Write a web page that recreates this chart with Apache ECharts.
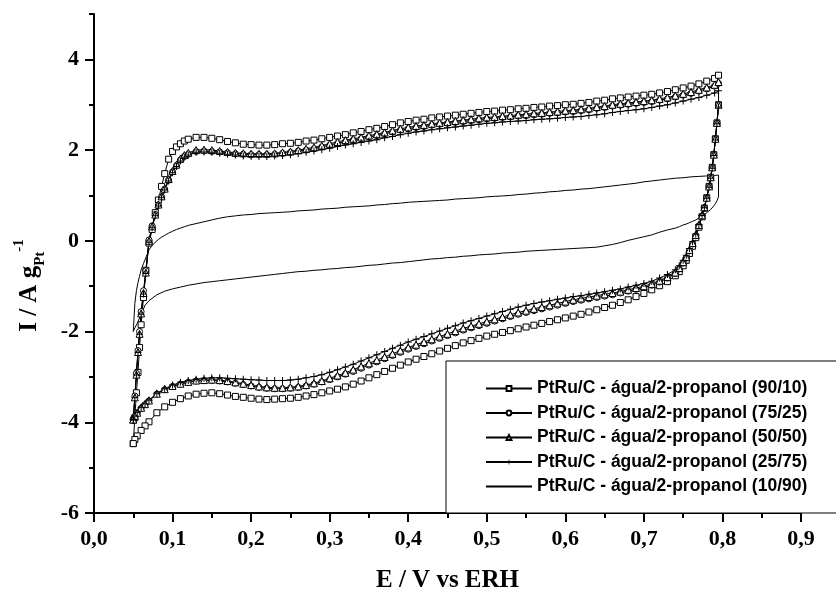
<!DOCTYPE html>
<html>
<head>
<meta charset="utf-8">
<script src="https://cdn.jsdelivr.net/npm/echarts@6/dist/echarts.min.js"></script>
<style>
  html, body { margin: 0; padding: 0; background: #fff; }
  #chart { width: 836px; height: 598px; }
</style>
</head>
<body>
<div id="chart"></div>
<script>
// potencial (V vs ERH) - varredura anodica e catodica
const E_up = [
  0.050, 0.052, 0.054, 0.056, 0.058, 0.060, 0.063, 0.066, 0.070, 0.074,
  0.078, 0.082, 0.086, 0.090, 0.095, 0.100, 0.105, 0.110, 0.115, 0.120,
  0.13, 0.14, 0.15, 0.16, 0.17, 0.18, 0.19, 0.20, 0.21, 0.22,
  0.23, 0.24, 0.25, 0.26, 0.27, 0.28, 0.29, 0.30, 0.31, 0.32,
  0.33, 0.34, 0.35, 0.36, 0.37, 0.38, 0.39, 0.40, 0.41, 0.42,
  0.43, 0.44, 0.45, 0.46, 0.47, 0.48, 0.49, 0.50, 0.51, 0.52,
  0.53, 0.54, 0.55, 0.56, 0.57, 0.58, 0.59, 0.60, 0.61, 0.62,
  0.63, 0.64, 0.65, 0.66, 0.67, 0.68, 0.69, 0.70, 0.71, 0.72,
  0.73, 0.74, 0.75, 0.76, 0.77, 0.78, 0.79, 0.795
]
const E_down = [
  0.795, 0.793, 0.791, 0.789, 0.787, 0.785, 0.783, 0.780, 0.777, 0.774,
  0.770, 0.766, 0.762, 0.758, 0.754, 0.750, 0.745, 0.74, 0.73, 0.72,
  0.71, 0.70, 0.69, 0.68, 0.67, 0.66, 0.65, 0.64, 0.63, 0.62,
  0.61, 0.60, 0.59, 0.58, 0.57, 0.56, 0.55, 0.54, 0.53, 0.52,
  0.51, 0.50, 0.49, 0.48, 0.47, 0.46, 0.45, 0.44, 0.43, 0.42,
  0.41, 0.40, 0.39, 0.38, 0.37, 0.36, 0.35, 0.34, 0.33, 0.32,
  0.31, 0.30, 0.29, 0.28, 0.27, 0.26, 0.25, 0.24, 0.23, 0.22,
  0.21, 0.20, 0.19, 0.18, 0.17, 0.16, 0.15, 0.14, 0.13, 0.12,
  0.11, 0.10, 0.09, 0.08, 0.07, 0.065, 0.060, 0.055, 0.052, 0.050
]

const names = [
  'PtRu/C - água/2-propanol (90/10)',
  'PtRu/C - água/2-propanol (75/25)',
  'PtRu/C - água/2-propanol (50/50)',
  'PtRu/C - água/2-propanol (25/75)',
  'PtRu/C - água/2-propanol (10/90)'
]

// I / A g-1 (90/10)
const I_9010_up = [
  -4.47, -3.90, -3.35, -2.90, -2.35, -1.85, -1.25, -0.65, -0.05, 0.25,
  0.62, 0.90, 1.20, 1.48, 1.80, 1.97, 2.07, 2.14, 2.20, 2.24,
  2.28, 2.28, 2.26, 2.23, 2.19, 2.16, 2.13, 2.12, 2.11, 2.11,
  2.12, 2.14, 2.15, 2.17, 2.20, 2.22, 2.25, 2.28, 2.31, 2.34,
  2.38, 2.41, 2.45, 2.48, 2.52, 2.56, 2.60, 2.63, 2.66, 2.68,
  2.71, 2.73, 2.75, 2.77, 2.79, 2.81, 2.83, 2.85, 2.86, 2.88,
  2.89, 2.91, 2.92, 2.94, 2.95, 2.97, 2.98, 3.00, 3.01, 3.03,
  3.05, 3.08, 3.10, 3.13, 3.15, 3.17, 3.19, 3.21, 3.23, 3.26,
  3.29, 3.33, 3.37, 3.41, 3.46, 3.52, 3.58, 3.65
]
const I_9010_down = [
  3.00, 2.60, 2.25, 1.90, 1.62, 1.40, 1.20, 0.95, 0.72, 0.53,
  0.30, 0.07, -0.12, -0.28, -0.43, -0.55, -0.68, -0.77, -0.90, -0.99,
  -1.08, -1.16, -1.23, -1.30, -1.36, -1.42, -1.47, -1.52, -1.57, -1.62,
  -1.66, -1.70, -1.74, -1.78, -1.82, -1.86, -1.90, -1.94, -1.98, -2.02,
  -2.06, -2.10, -2.15, -2.20, -2.25, -2.31, -2.37, -2.43, -2.49, -2.55,
  -2.61, -2.67, -2.74, -2.81, -2.88, -2.95, -3.02, -3.09, -3.16, -3.22,
  -3.27, -3.31, -3.35, -3.39, -3.42, -3.45, -3.47, -3.48, -3.49, -3.50,
  -3.49, -3.47, -3.45, -3.43, -3.40, -3.37, -3.35, -3.36, -3.38, -3.42,
  -3.48, -3.56, -3.66, -3.79, -3.99, -4.08, -4.18, -4.30, -4.38, -4.47
]

// (75/25)
const I_7525_up = [
  -3.92, -3.42, -2.92, -2.42, -2.00, -1.56, -1.10, -0.66, 0.02, 0.33,
  0.58, 0.79, 0.97, 1.14, 1.34, 1.52, 1.66, 1.78, 1.86, 1.91,
  1.97, 1.98, 1.97, 1.96, 1.94, 1.92, 1.91, 1.90, 1.90, 1.90,
  1.91, 1.93, 1.95, 1.98, 2.00, 2.03, 2.07, 2.11, 2.15, 2.19,
  2.22, 2.25, 2.29, 2.32, 2.36, 2.40, 2.44, 2.47, 2.50, 2.52,
  2.55, 2.57, 2.59, 2.61, 2.63, 2.65, 2.67, 2.69, 2.70, 2.72,
  2.73, 2.75, 2.76, 2.78, 2.79, 2.81, 2.82, 2.84, 2.85, 2.87,
  2.89, 2.92, 2.94, 2.97, 2.99, 3.01, 3.03, 3.05, 3.07, 3.10,
  3.13, 3.17, 3.21, 3.25, 3.30, 3.35, 3.41, 3.47
]
const I_7525_down = [
  3.00, 2.60, 2.25, 1.90, 1.62, 1.40, 1.20, 0.95, 0.73, 0.55,
  0.33, 0.11, -0.07, -0.22, -0.38, -0.49, -0.62, -0.72, -0.82, -0.91,
  -0.98, -1.03, -1.07, -1.11, -1.15, -1.19, -1.22, -1.25, -1.28, -1.31,
  -1.34, -1.38, -1.42, -1.46, -1.50, -1.54, -1.58, -1.62, -1.67, -1.72,
  -1.77, -1.82, -1.87, -1.92, -1.97, -2.03, -2.09, -2.15, -2.21, -2.27,
  -2.33, -2.39, -2.46, -2.53, -2.60, -2.67, -2.74, -2.81, -2.88, -2.94,
  -3.00, -3.06, -3.11, -3.16, -3.20, -3.23, -3.25, -3.26, -3.26, -3.25,
  -3.23, -3.20, -3.17, -3.14, -3.11, -3.09, -3.08, -3.08, -3.09, -3.12,
  -3.16, -3.21, -3.28, -3.38, -3.53, -3.61, -3.69, -3.80, -3.87, -3.95
]

// (50/50)
const I_5050_up = [
  -3.94, -3.45, -2.95, -2.45, -2.05, -1.60, -1.15, -0.70, 0.00, 0.32,
  0.58, 0.80, 0.98, 1.15, 1.36, 1.54, 1.68, 1.81, 1.89, 1.94,
  2.00, 2.01, 2.00, 1.98, 1.96, 1.94, 1.93, 1.92, 1.92, 1.92,
  1.93, 1.95, 1.97, 2.00, 2.03, 2.06, 2.10, 2.14, 2.18, 2.22,
  2.25, 2.28, 2.32, 2.35, 2.39, 2.43, 2.47, 2.50, 2.53, 2.55,
  2.58, 2.60, 2.62, 2.64, 2.66, 2.68, 2.70, 2.72, 2.73, 2.75,
  2.76, 2.78, 2.79, 2.81, 2.82, 2.84, 2.85, 2.87, 2.88, 2.90,
  2.92, 2.95, 2.97, 3.00, 3.02, 3.04, 3.06, 3.08, 3.10, 3.13,
  3.16, 3.20, 3.24, 3.28, 3.33, 3.38, 3.44, 3.50
]
const I_5050_down = [
  3.00, 2.60, 2.25, 1.90, 1.62, 1.40, 1.20, 0.95, 0.74, 0.56,
  0.35, 0.13, -0.05, -0.20, -0.36, -0.47, -0.60, -0.70, -0.80, -0.88,
  -0.95, -1.00, -1.04, -1.08, -1.12, -1.15, -1.18, -1.21, -1.24, -1.27,
  -1.30, -1.34, -1.38, -1.42, -1.46, -1.50, -1.54, -1.58, -1.63, -1.68,
  -1.73, -1.78, -1.83, -1.88, -1.93, -1.99, -2.05, -2.11, -2.17, -2.23,
  -2.29, -2.35, -2.42, -2.49, -2.56, -2.63, -2.70, -2.77, -2.84, -2.91,
  -2.97, -3.03, -3.09, -3.14, -3.18, -3.21, -3.23, -3.24, -3.24, -3.23,
  -3.21, -3.18, -3.15, -3.12, -3.09, -3.07, -3.06, -3.07, -3.08, -3.11,
  -3.15, -3.20, -3.27, -3.37, -3.52, -3.60, -3.68, -3.79, -3.86, -3.94
]

// (25/75)
const I_2575_up = [
  -3.95, -3.46, -2.96, -2.46, -2.06, -1.62, -1.17, -0.72, -0.03, 0.29,
  0.55, 0.77, 0.95, 1.12, 1.32, 1.50, 1.64, 1.76, 1.84, 1.89,
  1.95, 1.96, 1.95, 1.93, 1.91, 1.89, 1.87, 1.86, 1.86, 1.86,
  1.87, 1.88, 1.90, 1.92, 1.95, 1.98, 2.01, 2.04, 2.08, 2.11,
  2.14, 2.17, 2.20, 2.23, 2.27, 2.30, 2.34, 2.37, 2.40, 2.42,
  2.45, 2.47, 2.49, 2.51, 2.53, 2.55, 2.57, 2.59, 2.60, 2.62,
  2.63, 2.64, 2.65, 2.67, 2.68, 2.69, 2.70, 2.72, 2.73, 2.74,
  2.76, 2.78, 2.80, 2.83, 2.85, 2.87, 2.89, 2.91, 2.94, 2.97,
  3.00, 3.04, 3.08, 3.12, 3.16, 3.21, 3.26, 3.31
]
const I_2575_down = [
  2.95, 2.58, 2.22, 1.88, 1.60, 1.38, 1.18, 0.94, 0.73, 0.56,
  0.36, 0.15, -0.02, -0.17, -0.32, -0.43, -0.55, -0.64, -0.74, -0.82,
  -0.89, -0.94, -0.98, -1.02, -1.06, -1.09, -1.12, -1.15, -1.18, -1.21,
  -1.23, -1.26, -1.29, -1.32, -1.35, -1.38, -1.42, -1.46, -1.51, -1.56,
  -1.61, -1.66, -1.71, -1.76, -1.81, -1.87, -1.93, -1.99, -2.05, -2.11,
  -2.17, -2.23, -2.30, -2.37, -2.44, -2.51, -2.58, -2.65, -2.72, -2.78,
  -2.84, -2.90, -2.95, -2.99, -3.02, -3.05, -3.07, -3.08, -3.08, -3.08,
  -3.07, -3.06, -3.05, -3.04, -3.03, -3.02, -3.02, -3.03, -3.05, -3.08,
  -3.12, -3.18, -3.26, -3.36, -3.51, -3.59, -3.67, -3.78, -3.86, -3.94
]

// (10/90)
const I_1090_up = [
  -2.00, -1.38, -1.10, -0.92, -0.78, -0.64, -0.50, -0.37, -0.20, -0.10,
  -0.03, 0.03, 0.08, 0.12, 0.17, 0.21, 0.25, 0.28, 0.31, 0.34,
  0.38, 0.42, 0.46, 0.50, 0.53, 0.55, 0.57, 0.58, 0.60, 0.61,
  0.62, 0.63, 0.64, 0.66, 0.67, 0.68, 0.70, 0.71, 0.72, 0.74,
  0.75, 0.76, 0.77, 0.79, 0.80, 0.82, 0.83, 0.85, 0.86, 0.87,
  0.88, 0.89, 0.90, 0.92, 0.93, 0.94, 0.95, 0.97, 0.98, 0.99,
  1.00, 1.02, 1.03, 1.05, 1.06, 1.08, 1.09, 1.11, 1.12, 1.14,
  1.15, 1.17, 1.19, 1.21, 1.23, 1.25, 1.27, 1.30, 1.32, 1.34,
  1.36, 1.38, 1.39, 1.41, 1.42, 1.43, 1.44, 1.45
]
const I_1090_down = [
  0.97, 0.88, 0.82, 0.77, 0.73, 0.69, 0.66, 0.62, 0.58, 0.55,
  0.50, 0.46, 0.43, 0.40, 0.37, 0.35, 0.31, 0.28, 0.24, 0.19,
  0.13, 0.09, 0.05, 0.01, -0.04, -0.08, -0.11, -0.14, -0.15, -0.16,
  -0.17, -0.18, -0.19, -0.20, -0.21, -0.22, -0.23, -0.25, -0.26, -0.27,
  -0.29, -0.30, -0.31, -0.33, -0.34, -0.36, -0.37, -0.39, -0.40, -0.42,
  -0.44, -0.46, -0.48, -0.49, -0.51, -0.53, -0.54, -0.56, -0.58, -0.59,
  -0.61, -0.62, -0.64, -0.65, -0.67, -0.68, -0.70, -0.72, -0.74, -0.76,
  -0.78, -0.80, -0.82, -0.84, -0.86, -0.88, -0.90, -0.92, -0.95, -0.98,
  -1.02, -1.06, -1.11, -1.19, -1.32, -1.42, -1.62, -1.82, -1.92, -2.00
]

const yMajor = [-6, -4, -2, 0, 2, 4]

const loop = (up, down) =>
  E_up.map((e, i) => [e, up[i]]).concat(E_down.map((e, i) => [e, down[i]]))

const serif = 'Liberation Serif'
const sans = 'Liberation Sans'
const plusPath = 'path://M3,0H4V3H7V4H4V7H3V4H0V3H3Z'

const hollow = { color: '#fff', borderColor: '#000', borderWidth: 1 }

const mk = (name, up, down, symbol, size, itemStyle) => ({
  name: name,
  type: 'line',
  data: loop(up, down),
  symbol: symbol,
  symbolSize: size,
  showAllSymbol: true,
  itemStyle: itemStyle,
  lineStyle: { color: '#000', width: 1 },
  emphasis: { disabled: true },
  z: 2
})

const series = [
  mk(names[0], I_9010_up, I_9010_down, 'rect', 6, hollow),
  mk(names[1], I_7525_up, I_7525_down, 'circle', 6, hollow),
  mk(names[2], I_5050_up, I_5050_down, 'triangle', 7, hollow),
  mk(names[3], I_2575_up, I_2575_down, plusPath, 7, { color: '#000' }),
  // sem simbolo: cor transparente para a legenda mostrar so a linha
  mk(names[4], I_1090_up, I_1090_down, 'none', 0, { color: 'rgba(0,0,0,0)' })
]

const axisLineStyle = { color: '#000', width: 2 }

const myChart = echarts.init(document.getElementById('chart'), null, { renderer: 'canvas' })

const option = {
  animation: false,
  backgroundColor: '#fff',
  grid: { left: 94, right: 35, top: 14, bottom: 79 },
  legend: {
    orient: 'vertical',
    left: 446,
    top: 361,
    data: names,
    itemWidth: 46,
    itemHeight: 6,
    itemGap: 6.5,
    padding: [18.5, 40, 17.5, 39],
    borderColor: '#000',
    borderWidth: 1,
    backgroundColor: '#fff',
    selectedMode: false,
    textStyle: { fontFamily: sans, fontWeight: 'bold', fontSize: 17.5, lineHeight: 17, color: '#000' }
  },
  xAxis: {
    type: 'value',
    min: 0,
    max: 0.9,
    interval: 0.1,
    name: 'E / V vs ERH',
    nameLocation: 'middle',
    nameGap: 55,
    nameTextStyle: { fontFamily: serif, fontWeight: 'bold', fontSize: 25, color: '#000' },
    axisLine: { onZero: false, lineStyle: axisLineStyle },
    axisTick: { length: 9, lineStyle: axisLineStyle },
    minorTick: { show: true, splitNumber: 2, length: 5, lineStyle: axisLineStyle },
    splitLine: { show: false },
    axisLabel: {
      margin: 15,
      fontFamily: serif, fontWeight: 'bold', fontSize: 22, color: '#000',
      formatter: v => v.toFixed(1).replace('.', ',')
    }
  },
  yAxis: [{
    type: 'value',
    min: -6,
    max: 5,
    interval: 1,
    position: 'left',
    name: '{a|I / A g}{b|Pt}{c|-1}',
    nameLocation: 'middle',
    nameRotate: 90,
    nameGap: 46,
    nameTextStyle: {
      padding: [0, 44, 0, 0],
      rich: {
        a: { fontFamily: serif, fontWeight: 'bold', fontSize: 25, lineHeight: 36, verticalAlign: 'middle', color: '#000' },
        b: { fontFamily: serif, fontWeight: 'bold', fontSize: 15, lineHeight: 36, verticalAlign: 'bottom', color: '#000' },
        c: { fontFamily: serif, fontWeight: 'bold', fontSize: 15, lineHeight: 36, verticalAlign: 'top', color: '#000' }
      }
    },
    axisLine: { onZero: false, lineStyle: axisLineStyle },
    axisTick: { length: 5, lineStyle: axisLineStyle },
    splitLine: { show: false },
    axisLabel: { show: false }
  }, {
    type: 'value',
    min: -6,
    max: 5,
    position: 'left',
    axisLine: { show: false },
    axisTick: { length: 9, lineStyle: axisLineStyle, customValues: yMajor },
    splitLine: { show: false },
    axisLabel: {
      customValues: yMajor,
      margin: 15,
      fontFamily: serif, fontWeight: 'bold', fontSize: 22, color: '#000'
    }
  }],
  series: series
}

myChart.setOption(option)
</script>
</body>
</html>
